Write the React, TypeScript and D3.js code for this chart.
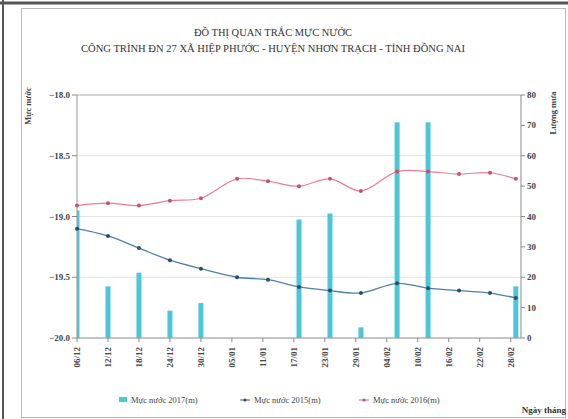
import React, { useEffect, useRef } from 'react';
import * as d3 from 'd3';

// measurement dates (dd/mm/yyyy)
const dates = [
  '06/12/2015', '12/12/2015', '18/12/2015', '24/12/2015', '30/12/2015',
  '06/01/2016', '12/01/2016', '18/01/2016', '24/01/2016', '30/01/2016',
  '06/02/2016', '12/02/2016', '18/02/2016', '24/02/2016', '29/02/2016',
];
const level2015 = [
  -19.10, -19.16, -19.26, -19.36, -19.43, -19.50, -19.52, -19.58,
  -19.61, -19.63, -19.55, -19.59, -19.61, -19.63, -19.67,
];
const level2016 = [
  -18.91, -18.89, -18.91, -18.87, -18.85, -18.69, -18.71, -18.75,
  -18.69, -18.79, -18.63, -18.63, -18.65, -18.64, -18.69,
];
// bar series (right axis)
const rain2017 = [42, 17, 21.5, 9, 11.5, 0, 0, 39, 41, 3.5, 71, 71, 0, 0, 17];
const tickLabels = [
  '06/12', '12/12', '18/12', '24/12', '30/12', '05/01', '11/01', '17/01',
  '23/01', '29/01', '04/02', '10/02', '16/02', '22/02', '28/02',
];
const leftTicks = [-18.0, -18.5, -19.0, -19.5, -20.0];
const rightTicks = [0, 10, 20, 30, 40, 50, 60, 70, 80];

const W = 568;
const H = 419;
const font = '"Liberation Serif", "Times New Roman", serif';

const App: React.FC = () => {
  const svgRef = useRef<SVGSVGElement>(null);

  useEffect(() => {
    if (!svgRef.current) return;
    const svg = d3.select(svgRef.current);
    svg.selectAll('*').remove();

    const parse = d3.timeParse('%d/%m/%Y');
    const xs = dates.map(d => parse(d) as Date);
    const left = 77, right = 521, top = 95, bottom = 338;

    const x = d3.scaleTime()
      .domain([parse('06/12/2015') as Date, parse('01/03/2016') as Date])
      .range([left, right]);
    const yL = d3.scaleLinear().domain([-20, -18]).range([bottom, top]);
    const yR = d3.scaleLinear().domain([0, 80]).range([bottom, top]);

    svg.append('rect').attr('width', W).attr('height', H).attr('fill', '#fff');

    // frame
    svg.append('rect').attr('x', 21.5).attr('y', 8.5).attr('width', 544).attr('height', 409)
      .attr('fill', 'none').attr('stroke', '#b8b8b8');
    svg.append('line').attr('x1', 3).attr('x2', 3).attr('y1', 0).attr('y2', H)
      .attr('stroke', '#555').attr('stroke-width', 2);
    svg.append('line').attr('x1', 0).attr('x2', W).attr('y1', 3).attr('y2', 3)
      .attr('stroke', '#555').attr('stroke-width', 3);

    // titles
    svg.append('text').attr('x', 273).attr('y', 36).attr('text-anchor', 'middle')
      .attr('font-family', font).attr('font-size', 10.5).attr('fill', '#333')
      .attr('textLength', 158).attr('lengthAdjust', 'spacingAndGlyphs')
      .text('ĐỒ THỊ QUAN TRẮC MỰC NƯỚC');
    svg.append('text').attr('x', 273).attr('y', 52).attr('text-anchor', 'middle')
      .attr('font-family', font).attr('font-size', 10.5).attr('fill', '#333')
      .attr('textLength', 384).attr('lengthAdjust', 'spacingAndGlyphs')
      .text('CÔNG TRÌNH ĐN 27 XÃ HIỆP PHƯỚC - HUYỆN NHƠN TRẠCH - TỈNH ĐỒNG NAI');

    // grid
    svg.append('g').selectAll('line').data(leftTicks).join('line')
      .attr('x1', left).attr('x2', right)
      .attr('y1', d => yL(d)).attr('y2', d => yL(d))
      .attr('stroke', d => (d === -18 ? '#aaa' : '#e2e2e2'));

    // bars
    const clipId = 'plot-clip';
    svg.append('clipPath').attr('id', clipId).append('rect')
      .attr('x', left).attr('y', top).attr('width', right - left).attr('height', bottom - top);
    svg.append('g').attr('clip-path', `url(#${clipId})`)
      .selectAll('rect').data(rain2017).join('rect')
      .attr('x', (_, i) => x(xs[i]) - 2.5)
      .attr('width', 5)
      .attr('y', d => yR(d))
      .attr('height', d => bottom - yR(d))
      .attr('fill', '#4cc7d8');

    // axes lines
    svg.append('line').attr('x1', left).attr('x2', left).attr('y1', top).attr('y2', bottom)
      .attr('stroke', '#999');
    svg.append('line').attr('x1', right).attr('x2', right).attr('y1', top).attr('y2', bottom)
      .attr('stroke', '#888');
    svg.append('line').attr('x1', left).attr('x2', right).attr('y1', bottom).attr('y2', bottom)
      .attr('stroke', '#999');

    // left ticks
    const lg = svg.append('g');
    leftTicks.forEach(t => {
      lg.append('line').attr('x1', left - 5).attr('x2', left).attr('y1', yL(t)).attr('y2', yL(t))
        .attr('stroke', '#888');
      lg.append('text').attr('x', left - 7).attr('y', yL(t) + 3).attr('text-anchor', 'end')
        .attr('font-family', font).attr('font-size', 9).attr('font-weight', 'bold').attr('fill', '#444')
        .text(d3.format('.1f')(t));
    });
    // right ticks
    const rg = svg.append('g');
    rightTicks.forEach(t => {
      rg.append('line').attr('x1', right).attr('x2', right + 4).attr('y1', yR(t)).attr('y2', yR(t))
        .attr('stroke', '#888');
      rg.append('text').attr('x', right + 6).attr('y', yR(t) + 3)
        .attr('font-family', font).attr('font-size', 9).attr('font-weight', 'bold').attr('fill', '#444')
        .text(String(t));
    });
    // x ticks
    const tickDates = tickLabels.map((_, i) => d3.timeDay.offset(parse('06/12/2015') as Date, i * 6));
    const xg = svg.append('g');
    tickDates.forEach((d, i) => {
      const px = x(d);
      xg.append('line').attr('x1', px).attr('x2', px).attr('y1', bottom).attr('y2', bottom + 4)
        .attr('stroke', '#888');
      xg.append('text')
        .attr('transform', `translate(${px + 3},${bottom + 9}) rotate(-90)`)
        .attr('text-anchor', 'end')
        .attr('font-family', font).attr('font-size', 9).attr('font-weight', 'bold').attr('fill', '#444')
        .text(tickLabels[i]);
    });

    // lines
    const mk = (vals: number[]) => d3.line<number>()
      .x((_, i) => x(xs[i]))
      .y(d => yL(d))
      .curve(d3.curveCatmullRom.alpha(0.5))(vals);

    svg.append('path').attr('d', mk(level2016)).attr('fill', 'none')
      .attr('stroke', '#f07a93').attr('stroke-width', 1.2);
    svg.append('g').selectAll('circle').data(level2016).join('circle')
      .attr('cx', (_, i) => x(xs[i])).attr('cy', d => yL(d)).attr('r', 2)
      .attr('fill', '#c8506e');

    svg.append('path').attr('d', mk(level2015)).attr('fill', 'none')
      .attr('stroke', '#4d7fae').attr('stroke-width', 1.3);
    svg.append('g').selectAll('circle').data(level2015).join('circle')
      .attr('cx', (_, i) => x(xs[i])).attr('cy', d => yL(d)).attr('r', 2)
      .attr('fill', '#2d4a68');

    // axis titles
    svg.append('text').attr('transform', 'translate(31,106) rotate(-90)').attr('text-anchor', 'middle')
      .attr('font-family', font).attr('font-size', 8.5).attr('font-weight', 'bold').attr('fill', '#444')
      .text('Mực nước');
    svg.append('text').attr('transform', 'translate(556,113) rotate(-90)').attr('text-anchor', 'middle')
      .attr('font-family', font).attr('font-size', 8.5).attr('font-weight', 'bold').attr('fill', '#444')
      .text('Lượng mưa');
    svg.append('text').attr('x', 566).attr('y', 413).attr('text-anchor', 'end')
      .attr('font-family', font).attr('font-size', 9).attr('font-weight', 'bold').attr('fill', '#333')
      .text('Ngày tháng');

    // legend
    const ly = 401;
    const leg = svg.append('g').attr('font-family', font).attr('font-size', 8.5).attr('fill', '#444');
    leg.append('rect').attr('x', 119).attr('y', ly - 4).attr('width', 8).attr('height', 5).attr('fill', '#4cc7d8');
    leg.append('text').attr('x', 131).attr('y', ly + 2).text('Mực nước 2017(m)');
    leg.append('line').attr('x1', 240).attr('x2', 250).attr('y1', ly - 1).attr('y2', ly - 1)
      .attr('stroke', '#4d7fae').attr('stroke-width', 1.2);
    leg.append('circle').attr('cx', 245).attr('cy', ly - 1).attr('r', 1.6).attr('fill', '#2d4a68');
    leg.append('text').attr('x', 254).attr('y', ly + 2).text('Mực nước 2015(m)');
    leg.append('line').attr('x1', 359).attr('x2', 369).attr('y1', ly - 1).attr('y2', ly - 1)
      .attr('stroke', '#f07a93').attr('stroke-width', 1.2);
    leg.append('circle').attr('cx', 364).attr('cy', ly - 1).attr('r', 1.6).attr('fill', '#c8506e');
    leg.append('text').attr('x', 373).attr('y', ly + 2).text('Mực nước 2016(m)');
  }, []);

  return (
    <svg ref={svgRef} width={W} height={H}
      style={{ position: 'absolute', left: 0, top: 0, display: 'block' }} />
  );
};

export default App;
